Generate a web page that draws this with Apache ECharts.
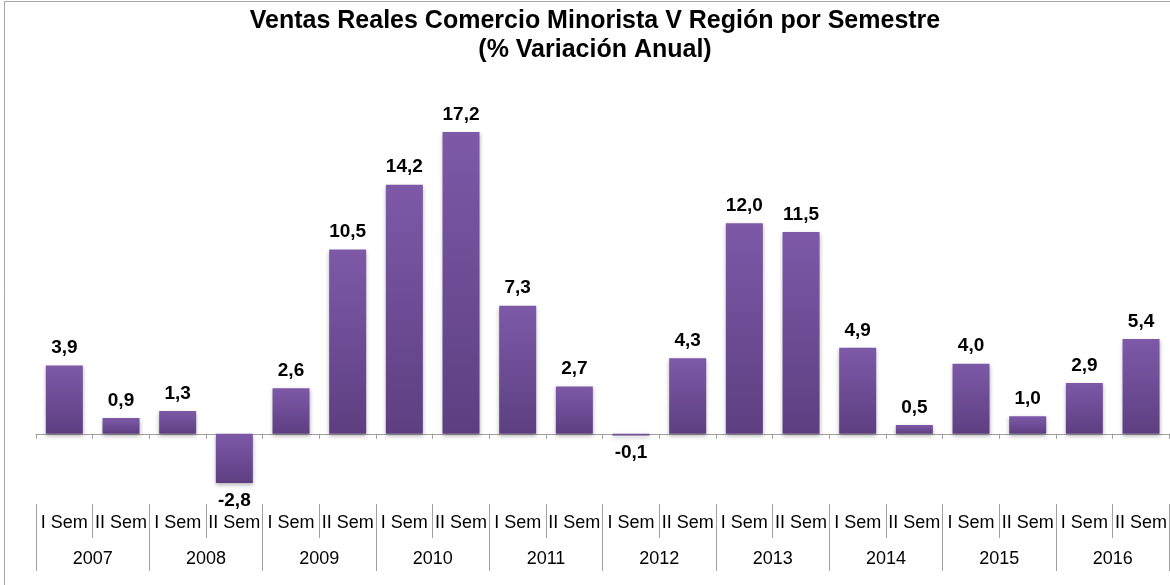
<!DOCTYPE html>
<html>
<head>
<meta charset="utf-8">
<script src="https://cdn.jsdelivr.net/npm/echarts@6/dist/echarts.min.js"></script>
<style>
  html, body { margin: 0; padding: 0; background: #fff; }
  #chart { width: 1170px; height: 585px; }
</style>
</head>
<body>
<div id="chart"></div>
<script>
// datos del grafico
var semestres = ['I Sem', 'II Sem', 'I Sem', 'II Sem', 'I Sem', 'II Sem', 'I Sem', 'II Sem', 'I Sem', 'II Sem',
                 'I Sem', 'II Sem', 'I Sem', 'II Sem', 'I Sem', 'II Sem', 'I Sem', 'II Sem', 'I Sem', 'II Sem'];
var anios = ['2007', '2008', '2009', '2010', '2011', '2012', '2013', '2014', '2015', '2016'];
var variacion = [3.9, 0.9, 1.3, -2.8, 2.6, 10.5, 14.2, 17.2, 7.3, 2.7,
                 -0.1, 4.3, 12.0, 11.5, 4.9, 0.5, 4.0, 1.0, 2.9, 5.4];

var chart = echarts.init(document.getElementById('chart'));
var fontFam = 'Liberation Sans, Arial, sans-serif';

var barColor = new echarts.graphic.LinearGradient(0, 0, 0, 1, [
    { offset: 0, color: '#7d59a8' },
    { offset: 1, color: '#5d3f81' }
]);

var barData = variacion.map(function (v) {
    return {
        value: v,
        label: { position: v < 0 ? 'bottom' : 'top' }
    };
});

var option = {
    animation: false,
    title: {
        text: 'Ventas Reales Comercio Minorista V Región por Semestre\n(% Variación Anual)',
        left: 590,
        textAlign: 'center',
        top: 2,
        textStyle: {
            fontFamily: fontFam,
            fontSize: 25,
            fontWeight: 'bold',
            color: '#000',
            lineHeight: 29
        }
    },
    graphic: [{
        type: 'rect',
        shape: { x: 4.5, y: 1.5, width: 1300, height: 700 },
        style: { fill: 'none', stroke: '#a6a6a6', lineWidth: 1 },
        silent: true
    }],
    grid: { left: 36, right: -1, top: 118, bottom: 81 },
    xAxis: [{
        type: 'category',
        data: semestres,
        axisLine: { onZero: true, lineStyle: { color: '#a0a0a0' } },
        axisTick: { show: true, length: 5, lineStyle: { color: '#a0a0a0' } },
        axisLabel: { show: false }
    }, {
        type: 'category',
        data: semestres,
        position: 'bottom',
        axisLine: { show: true, onZero: false, lineStyle: { color: 'rgba(0,0,0,0)' } },
        axisTick: { show: true, length: 34, lineStyle: { color: '#a0a0a0' } },
        axisLabel: {
            interval: 0, margin: 10,
            fontFamily: fontFam, fontSize: 18, color: '#000'
        }
    }, {
        type: 'category',
        data: anios,
        position: 'bottom',
        axisLine: { show: true, onZero: false, lineStyle: { color: 'rgba(0,0,0,0)' } },
        axisTick: { show: true, length: 67, lineStyle: { color: '#a0a0a0' } },
        axisLabel: {
            interval: 0, margin: 46,
            fontFamily: fontFam, fontSize: 18, color: '#000'
        }
    }],
    yAxis: {
        type: 'value',
        min: -4,
        max: 18,
        show: false,
        splitLine: { show: false }
    },
    series: [{
        type: 'bar',
        data: barData,
        barWidth: 37,
        itemStyle: {
            color: barColor,
            shadowColor: 'rgba(0,0,0,0.3)',
            shadowBlur: 4,
            shadowOffsetY: 2
        },
        label: {
            show: true,
            distance: 8,
            fontFamily: fontFam,
            fontSize: 19,
            fontWeight: 'bold',
            color: '#000',
            formatter: function (p) {
                return p.value.toFixed(1).replace('.', ',');
            }
        }
    }]
};

chart.setOption(option);
</script>
</body>
</html>
